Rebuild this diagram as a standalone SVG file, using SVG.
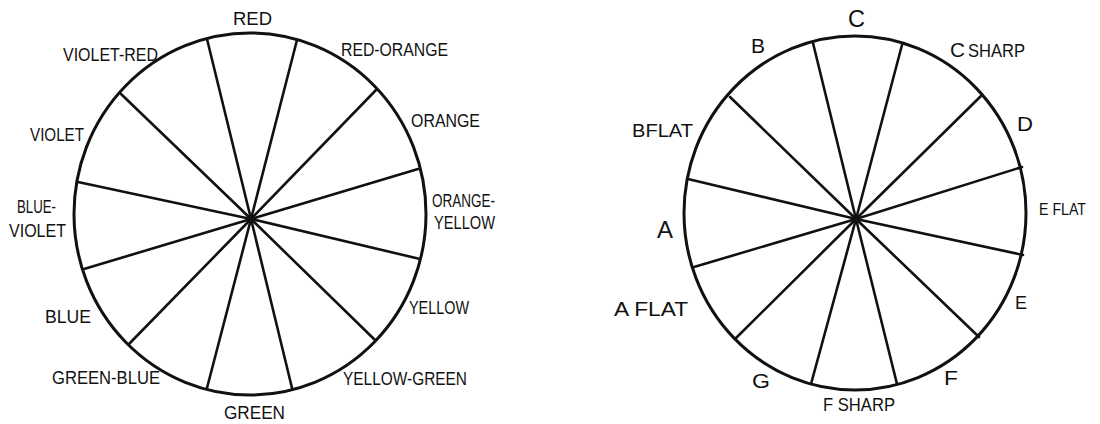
<svg xmlns="http://www.w3.org/2000/svg" width="1100" height="424" viewBox="0 0 1100 424">
<style>
.rim{fill:none;stroke:#111;stroke-width:3}
.sp{stroke:#111;stroke-width:2.6;stroke-linecap:round}
text{font-family:"Liberation Sans","DejaVu Sans",sans-serif;fill:#111;font-size:19px}
.big{font-size:24px}
.mid{font-size:21px}
.sm{font-size:16px}
</style>
<rect width="1100" height="424" fill="#fff"/>
<g id="color-wheel">
<ellipse class="rim" cx="250" cy="214" rx="176" ry="181"/>
<g id="color-spokes">
<line class="sp" x1="251" y1="219" x2="207" y2="39"/>
<line class="sp" x1="251" y1="219" x2="297" y2="40"/>
<line class="sp" x1="251" y1="219" x2="376" y2="90"/>
<line class="sp" x1="251" y1="219" x2="418" y2="169"/>
<line class="sp" x1="251" y1="219" x2="121" y2="94"/>
<line class="sp" x1="251" y1="219" x2="78" y2="182"/>
<line class="sp" x1="251" y1="219" x2="84" y2="269"/>
<line class="sp" x1="251" y1="219" x2="129" y2="344"/>
<line class="sp" x1="251" y1="219" x2="207" y2="388"/>
<line class="sp" x1="251" y1="219" x2="292" y2="388"/>
<line class="sp" x1="251" y1="219" x2="375" y2="340"/>
<line class="sp" x1="251" y1="219" x2="420" y2="259"/>
</g>
<circle cx="251" cy="219" r="3.5" fill="#111"/>
</g>
<g id="color-labels">
<text x="233" y="25" textLength="39" lengthAdjust="spacingAndGlyphs">RED</text>
<text x="63" y="61" textLength="95" lengthAdjust="spacingAndGlyphs">VIOLET-RED</text>
<text x="341" y="56" textLength="107" lengthAdjust="spacingAndGlyphs">RED-ORANGE</text>
<text x="411" y="127" textLength="69" lengthAdjust="spacingAndGlyphs">ORANGE</text>
<text x="30" y="141" textLength="54" lengthAdjust="spacingAndGlyphs">VIOLET</text>
<text x="432" y="207" textLength="63" lengthAdjust="spacingAndGlyphs">ORANGE-</text>
<text x="434" y="229" textLength="61" lengthAdjust="spacingAndGlyphs">YELLOW</text>
<text x="17" y="213" textLength="39" lengthAdjust="spacingAndGlyphs">BLUE-</text>
<text x="9" y="237" textLength="57" lengthAdjust="spacingAndGlyphs">VIOLET</text>
<text x="409" y="314" textLength="60" lengthAdjust="spacingAndGlyphs">YELLOW</text>
<text x="45" y="323" textLength="46" lengthAdjust="spacingAndGlyphs">BLUE</text>
<text x="52" y="384" textLength="108" lengthAdjust="spacingAndGlyphs">GREEN-BLUE</text>
<text x="343" y="385" textLength="124" lengthAdjust="spacingAndGlyphs">YELLOW-GREEN</text>
<text x="224" y="419" textLength="61" lengthAdjust="spacingAndGlyphs">GREEN</text>
</g>
<g id="note-wheel">
<ellipse class="rim" cx="855" cy="213" rx="171" ry="177"/>
<g id="note-spokes">
<line class="sp" x1="856" y1="219" x2="813" y2="43"/>
<line class="sp" x1="856" y1="219" x2="902" y2="45"/>
<line class="sp" x1="856" y1="219" x2="982" y2="95"/>
<line class="sp" x1="856" y1="219" x2="1022" y2="167"/>
<line class="sp" x1="856" y1="219" x2="730" y2="97"/>
<line class="sp" x1="856" y1="219" x2="688" y2="179"/>
<line class="sp" x1="856" y1="219" x2="694" y2="267"/>
<line class="sp" x1="856" y1="219" x2="736" y2="338"/>
<line class="sp" x1="856" y1="219" x2="811" y2="384"/>
<line class="sp" x1="856" y1="219" x2="897" y2="384"/>
<line class="sp" x1="856" y1="219" x2="979" y2="337"/>
<line class="sp" x1="856" y1="219" x2="1023" y2="255"/>
</g>
<circle cx="856" cy="219" r="3.5" fill="#111"/>
</g>
<g id="note-labels">
<text class="big" x="848" y="27" textLength="17" lengthAdjust="spacingAndGlyphs">C</text>
<text class="mid" x="751" y="53" textLength="14" lengthAdjust="spacingAndGlyphs">B</text>
<text class="mid" x="950" y="57" textLength="15" lengthAdjust="spacingAndGlyphs">C</text>
<text x="968" y="57" textLength="57" lengthAdjust="spacingAndGlyphs">SHARP</text>
<text class="mid" x="1017" y="131" textLength="16" lengthAdjust="spacingAndGlyphs">D</text>
<text x="632" y="137" textLength="61" lengthAdjust="spacingAndGlyphs">BFLAT</text>
<text class="sm" x="1039" y="215" textLength="47" lengthAdjust="spacingAndGlyphs">E FLAT</text>
<text class="big" x="657" y="238" textLength="16" lengthAdjust="spacingAndGlyphs">A</text>
<text class="mid" x="614" y="316" textLength="74" lengthAdjust="spacingAndGlyphs">A FLAT</text>
<text x="1015" y="309" textLength="12" lengthAdjust="spacingAndGlyphs">E</text>
<text class="mid" x="752" y="388" textLength="18" lengthAdjust="spacingAndGlyphs">G</text>
<text class="mid" x="944" y="385" textLength="14" lengthAdjust="spacingAndGlyphs">F</text>
<text x="823" y="411" textLength="72" lengthAdjust="spacingAndGlyphs">F SHARP</text>
</g>
</svg>
